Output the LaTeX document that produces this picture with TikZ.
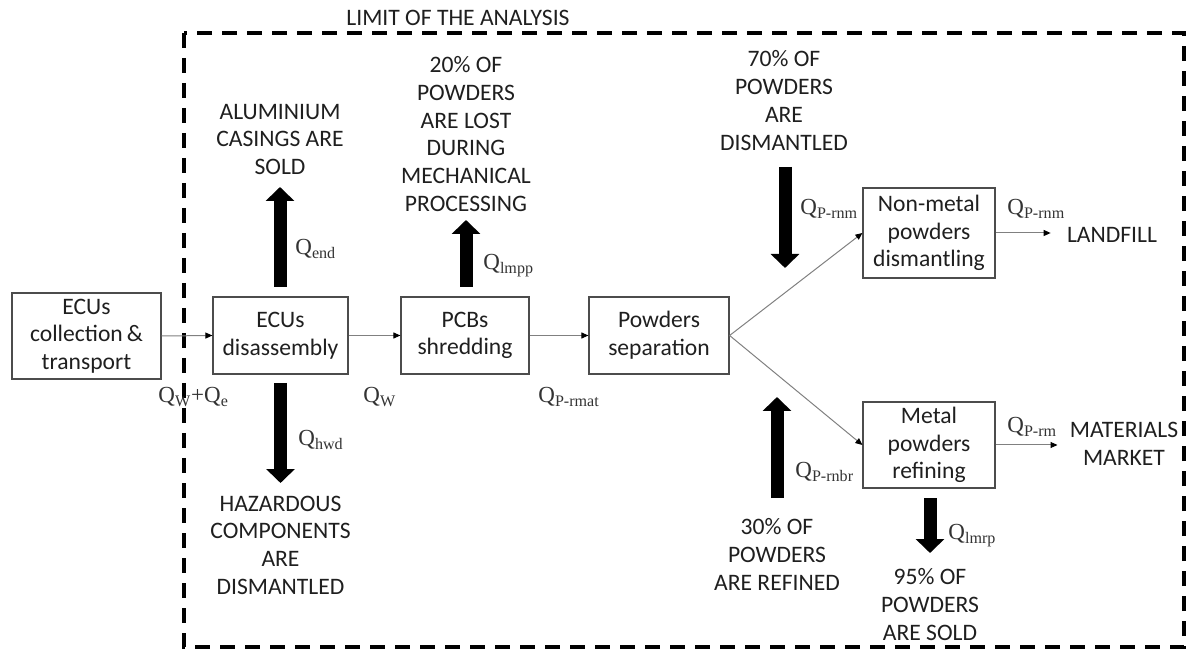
\documentclass[tikz,border=0pt]{standalone}
\usepackage{fontspec}
\setmainfont{Carlito}
\newfontfamily\qfont{Liberation Serif}
\usetikzlibrary{arrows.meta}

% label and quantity fonts
\newcommand\diagfont{\fontsize{11.8}{13.85}\selectfont}
\newcommand\Qs[1]{Q\textsubscript{#1}}

\tikzset{
  box/.style={draw=black!70, line width=0.6pt, align=center, inner sep=0pt,
              font=\diagfont, text=black!88},
  note/.style={align=center, inner sep=0pt, font=\diagfont, text=black!88},
  qlab/.style={inner sep=0pt, anchor=base west,
               font=\qfont\fontsize{11.5}{13}\selectfont, text=black!80},
  flow/.style={draw=black!50, line width=0.5pt,
               -{Triangle[length=3.5pt,width=3pt,color=black]}},
  bigarrow/.style={draw=black, line width=6.5pt,
               -{Triangle[length=7pt,width=14pt]}},
  limitline/.style={draw=black, line width=2pt, dash pattern=on 7.5pt off 5pt},
}

\begin{document}
\begin{tikzpicture}[x=0.5pt,y=-0.5pt]
\useasboundingbox (0,0) rectangle (1187,651);

% boundary of the analysis
\draw[limitline] (184,33) rectangle (1184,647);
\node[note] (limit) at (458,18) {LIMIT OF THE ANALYSIS};

% process boxes
\node[box, minimum width=74.5pt, minimum height=43pt] (coll) at (86.5,336) {ECUs\\collection\,\&\\transport};
\node[box, minimum width=67.5pt, minimum height=38.5pt] (dis) at (280.5,335.5) {ECUs\\disassembly};
\node[box, minimum width=64pt, minimum height=38.5pt] (pcb) at (465,335.5) {PCBs\\shredding};
\node[box, minimum width=70pt, minimum height=38.5pt] (sep) at (659,335.5) {Powders\\separation};
\node[box, minimum width=66pt, minimum height=45pt] (nm) at (929,233) {Non-metal\\powders\\dismantling};
\node[box, minimum width=66pt, minimum height=43pt] (met) at (929,445) {Metal\\powders\\refining};

% destinations
\node[note] (landfill) at (1112,235) {LANDFILL};
\node[note] (market) at (1124,444) {MATERIALS\\MARKET};

% side streams
\node[note] (alu) at (280,139.5) {ALUMINIUM\\CASINGS ARE\\SOLD};
\node[note] (lost) at (466,134) {20\% OF\\POWDERS\\ARE LOST\\DURING\\MECHANICAL\\PROCESSING};
\node[note] (dism) at (784,100.5) {70\% OF\\POWDERS\\ARE\\DISMANTLED};
\node[note] (haz) at (280.5,545) {HAZARDOUS\\COMPONENTS\\ARE\\DISMANTLED};
\node[note] (refd) at (777,554.5) {30\% OF\\POWDERS\\ARE REFINED};
\node[note] (sold) at (930,604.5) {95\% OF\\POWDERS\\ARE SOLD};

% main material flow
\draw[flow] (coll.east) -- (dis.west);
\draw[flow] (dis.east) -- (pcb.west);
\draw[flow] (pcb.east) -- (sep.west);
\draw[flow] (sep.east) -- (nm.west);
\draw[flow] (sep.east) -- (met.west);
\draw[flow, shorten >=8pt] (nm.east) -- (nm.east -| landfill.west);
\draw[flow, shorten >=6pt] (met.east) -- (met.east -| market.west);

% block arrow end points
\coordinate (aluS) at (280,287);  \coordinate (aluE) at (280,187);
\coordinate (hazS) at (280.5,383); \coordinate (hazE) at (280.5,483);
\coordinate (lostS) at (466,287); \coordinate (lostE) at (466,220);
\coordinate (dismS) at (785,167); \coordinate (dismE) at (785,268);
\coordinate (refdS) at (777,498); \coordinate (refdE) at (777,397);
\coordinate (soldS) at (930,498); \coordinate (soldE) at (930,553);

\draw[bigarrow] (aluS) -- (aluE);
\draw[bigarrow] (hazS) -- (hazE);
\draw[bigarrow] (lostS) -- (lostE);
\draw[bigarrow] (dismS) -- (dismE);
\draw[bigarrow] (refdS) -- (refdE);
\draw[bigarrow] (soldS) -- (soldE);

% quantities
\node[qlab] (qwe) at (158,402.6) {\Qs{W}+\Qs{e}};
\node[qlab] (qw) at (363,402.6) {\Qs{W}};
\node[qlab] (qrmat) at (538,402.6) {\Qs{P-rmat}};
\node[qlab] (qend) at (295,254.6) {\Qs{end}};
\node[qlab] (qhwd) at (298,445.6) {\Qs{hwd}};
\node[qlab] (qlmpp) at (483,269.6) {\Qs{lmpp}};
\node[qlab] (qrnmA) at (800,214.6) {\Qs{P-rnm}};
\node[qlab] (qrnmB) at (1007,214.6) {\Qs{P-rnm}};
\node[qlab] (qrm) at (1007,432.6) {\Qs{P-rm}};
\node[qlab] (qrnbr) at (795,477.6) {\Qs{P-rnbr}};
\node[qlab] (qlmrp) at (948,539.6) {\Qs{lmrp}};
\end{tikzpicture}
\end{document}
